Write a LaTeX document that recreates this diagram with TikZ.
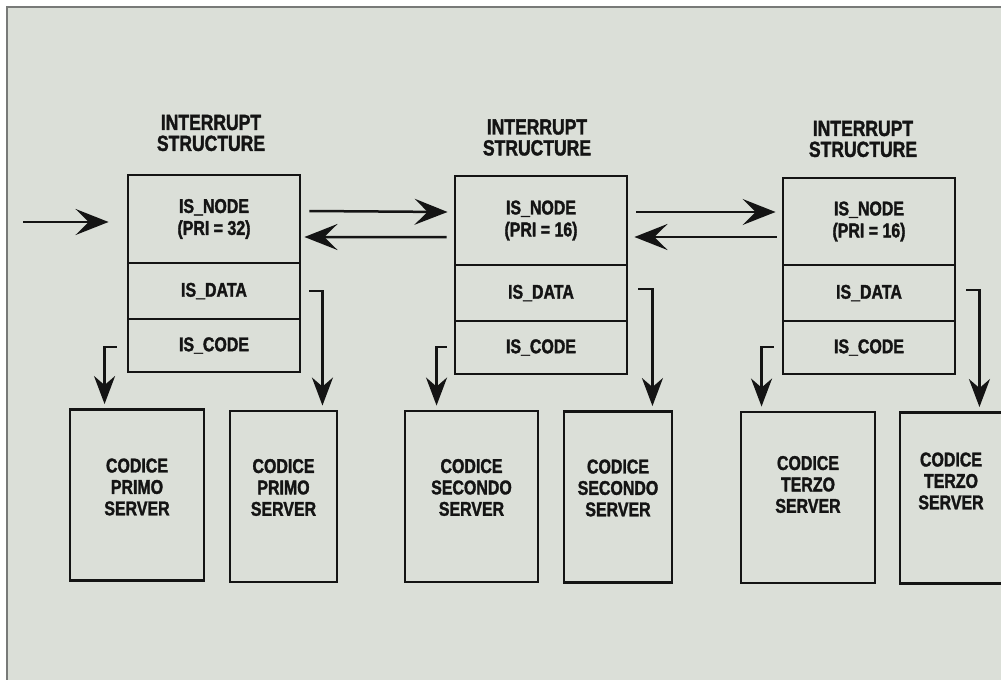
\documentclass[tikz,border=0pt]{standalone}
\usepackage{fontspec}
\usetikzlibrary{arrows.meta,calc}
\newfontfamily\cf{Liberation Sans}[FakeStretch=0.8, BoldFeatures={FakeBold=1.6}]
\definecolor{paper}{RGB}{219,223,216}
\definecolor{ink}{RGB}{20,20,20}
\definecolor{frame}{RGB}{120,122,120}
\tikzset{
  sect/.style={draw=ink, line width=2.9bp, inner sep=0pt, minimum width=172bp, text=ink,
     font=\cf\bfseries\fontsize{20}{22}\selectfont, align=center},
  srv/.style={draw=ink, line width=2.9bp, inner sep=0pt, minimum height=171bp},
  srvtxt/.style={text=ink, font=\cf\bfseries\fontsize{20}{21.5}\selectfont, align=center, inner sep=0pt},
  ttl/.style={text=ink, font=\cf\bfseries\fontsize{22}{21}\selectfont, align=center, inner sep=0pt},
  harr/.style={draw=ink, line width=2.5bp, -{Stealth[length=33bp,width=26bp,inset=13bp]}},
  varr/.style={draw=ink, line width=2.5bp, -{Stealth[length=28bp,width=21bp,inset=9bp]}},
}
\begin{document}
\begin{tikzpicture}[x=1bp,y=-1bp]
\useasboundingbox (0,0) rectangle (1001,680);
\begin{scope}
\clip (0,0) rectangle (1001,680);
\fill[white] (0,0) rectangle (1001,680);
\fill[paper] (7,7) rectangle (1001,680);
\draw[frame, line width=1.2bp] (7,680) -- (7,7) -- (1001,7);

% structure 1
\node[sect, minimum height=88bp] (n1) at (214,219) {IS\_NODE\\(PRI = 32)};
\node[sect, minimum height=56bp] (d1) at (214,291) {IS\_DATA};
\node[sect, minimum height=53bp] (c1) at (214,345.5) {IS\_CODE};
\node[ttl] (t1) at (211,133) {INTERRUPT\\STRUCTURE};
% structure 2
\node[sect, minimum height=89bp] (n2) at (541,220.5) {IS\_NODE\\(PRI = 16)};
\node[sect, minimum height=56bp] (d2) at (541,293) {IS\_DATA};
\node[sect, minimum height=53bp] (c2) at (541,347.5) {IS\_CODE};
\node[ttl] (t2) at (537,137.5) {INTERRUPT\\STRUCTURE};
% structure 3
\node[sect, minimum height=87bp] (n3) at (869,221.5) {IS\_NODE\\(PRI = 16)};
\node[sect, minimum height=56bp] (d3) at (869,293) {IS\_DATA};
\node[sect, minimum height=53bp] (c3) at (869,347.5) {IS\_CODE};
\node[ttl] (t3) at (863,139) {INTERRUPT\\STRUCTURE};

% servers
\node[srv, minimum width=134bp] (s1) at (137,495) {};
\node[srv, minimum width=107bp] (s2) at (283.5,496.5) {};
\node[srv, minimum width=133bp] (s3) at (471.5,496.5) {};
\node[srv, minimum width=108bp] (s4) at (618,497) {};
\node[srv, minimum width=134bp] (s5) at (808,497.5) {};
\node[srv, minimum width=130bp] (s6) at (965,498) {};
\node[srvtxt] (l1) at ($(s1.center)+(0,-8)$) {CODICE\\PRIMO\\SERVER};
\node[srvtxt] (l2) at ($(s2.center)+(0,-9)$) {CODICE\\PRIMO\\SERVER};
\node[srvtxt] (l3) at ($(s3.center)+(0,-9)$) {CODICE\\SECONDO\\SERVER};
\node[srvtxt] (l4) at ($(s4.center)+(0,-9)$) {CODICE\\SECONDO\\SERVER};
\node[srvtxt] (l5) at ($(s5.center)+(0,-13)$) {CODICE\\TERZO\\SERVER};
\node[srvtxt] (l6) at ($(s6.center)+(-14,-17)$) {CODICE\\TERZO\\SERVER};

% input arrow
\coordinate (in) at (23,222);
\draw[harr] (in) -- ($(n1.west |- in)+(-18,0)$);

% links between structures
\draw[harr] ($(n1.east)+(8,-8)$) -- ($(n2.west)+(-6,-8.5)$);
\draw[harr] ($(n2.west)+(-7,16.5)$) -- ($(n1.east)+(3,18)$);
\draw[harr] ($(n2.east)+(8,-8.5)$) -- ($(n3.west)+(-6,-9.5)$);
\draw[harr] ($(n3.west)+(-5,15.5)$) -- ($(n2.east)+(6,16.5)$);

% code / data arrows
\draw[varr] ($(c1.west)+(-10,1.5)$) -- ++(-12,0) coordinate (k1) -- ($(k1 |- s1.north)+(0,-4)$);
\draw[varr] ($(d1.east)+(8,0)$) -- ++(13,0) coordinate (k2) -- ($(k2 |- s2.north)+(0,-4)$);
\draw[varr] ($(c2.west)+(-7,-0.5)$) -- ++(-10,0) coordinate (k3) -- ($(k3 |- s3.north)+(0,-4)$);
\draw[varr] ($(d2.east)+(10,-4)$) -- ++(14,0) coordinate (k4) -- ($(k4 |- s4.north)+(0,-4)$);
\draw[varr] ($(c3.west)+(-8,-0.5)$) -- ++(-12,0) coordinate (k5) -- ($(k5 |- s5.north)+(0,-4)$);
\draw[varr] ($(d3.east)+(10,-3)$) -- ++(13,0) coordinate (k6) -- ($(k6 |- s6.north)+(0,-4)$);
\end{scope}
\end{tikzpicture}
\end{document}
